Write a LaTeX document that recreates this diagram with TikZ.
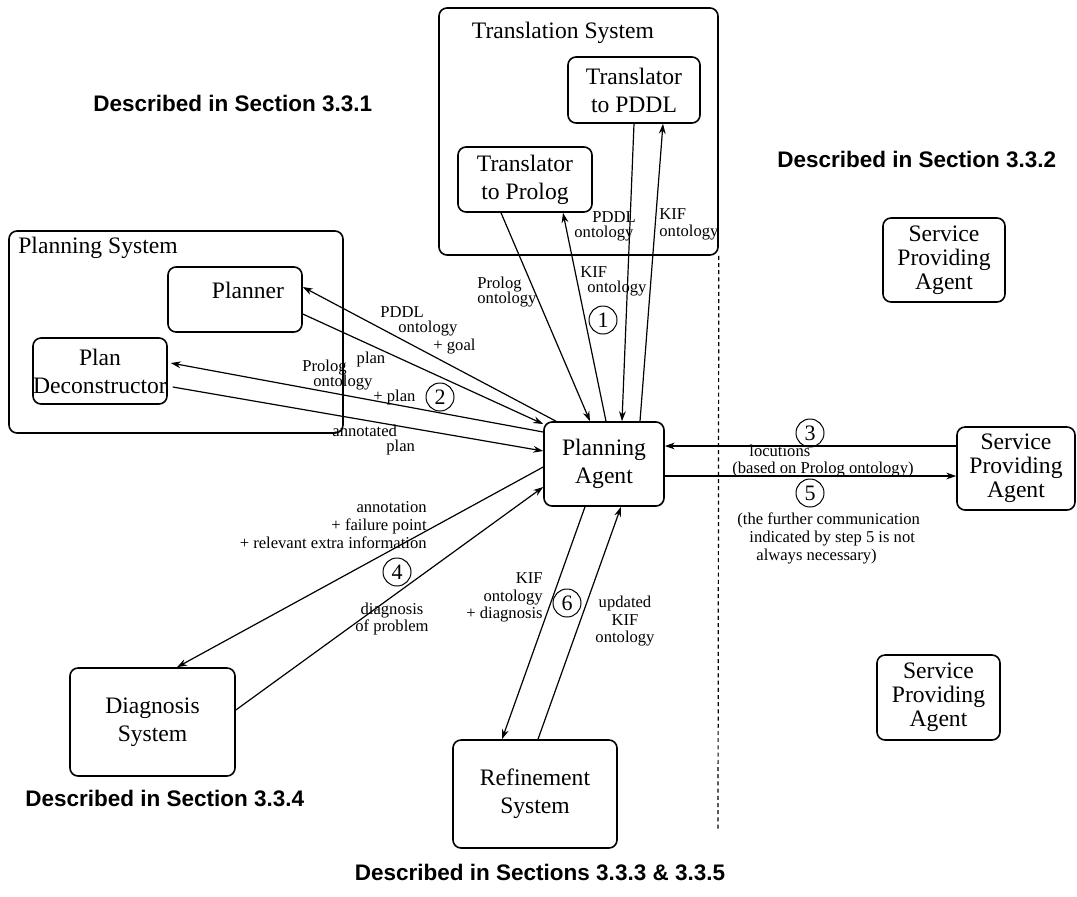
\documentclass[tikz,border=0pt]{standalone}
\usepackage{fontspec}
\setmainfont{Liberation Serif}
\newfontfamily\headfont{Liberation Sans}
\usetikzlibrary{arrows.meta}

\begin{document}
\begin{tikzpicture}[x=0.5pt,y=-0.5pt,
  box/.style={draw, line width=0.8pt, rounded corners=4pt, align=center, inner sep=0pt,
    font=\fontsize{11.8}{14}\selectfont},
  sabox/.style={box, font=\fontsize{11.8}{12}\selectfont},
  grouptitle/.style={font=\fontsize{11.8}{14}\selectfont, inner sep=0pt},
  lbl/.style={font=\fontsize{8.3}{9}\selectfont, inner sep=0pt},
  stepnum/.style={draw, circle, line width=0.5pt, minimum size=14pt, inner sep=0pt,
    font=\fontsize{11}{11}\selectfont},
  msg/.style={line width=0.6pt, -{Stealth[length=5pt,width=3.4pt]}},
  section/.style={font=\headfont\bfseries\fontsize{11.25}{13}\selectfont, inner sep=0pt},
]
\useasboundingbox[fill=white] (0,0) rectangle (1077,896);

% ---- Translation system ----
\node[box, minimum width=139.5pt, minimum height=123.5pt] (transsys) at (578.5,131.5) {};
\node[grouptitle] (transtitle) at (563,33) {Translation System};
\node[box, minimum width=66pt, minimum height=33pt] (pddl) at (634,90) {Translator\\to PDDL};
\node[box, minimum width=67pt, minimum height=32.5pt] (prolog) at (525,179.5) {Translator\\to Prolog};

% ---- Planning system ----
\node[box, minimum width=167pt, minimum height=101pt] (plansys) at (176,332) {};
\node[grouptitle] (plantitle) at (98,248) {Planning System};
\node[box, minimum width=67pt, minimum height=32.5pt,
  label={[grouptitle, xshift=6.5pt, yshift=4.75pt]center:Planner}] (planner) at (235,299.5) {};
\node[box, minimum width=67pt, minimum height=33pt] (decon) at (100,371) {Plan\\Deconstructor};

% ---- central agent and the other systems ----
\node[box, minimum width=60pt, minimum height=42pt] (agent) at (604,464) {Planning\\Agent};
\node[box, minimum width=82.5pt, minimum height=54pt] (diag) at (152.5,722) {Diagnosis\\System};
\node[box, minimum width=82pt, minimum height=54pt] (refine) at (535,794) {Refinement\\System};

% ---- service providing agents ----
\node[sabox, minimum width=61pt, minimum height=42pt] (spatop) at (944,260) {Service\\Providing\\Agent};
\node[sabox, minimum width=59pt, minimum height=41.5pt] (spamid) at (1016,468.5) {Service\\Providing\\Agent};
\node[sabox, minimum width=61.5pt, minimum height=42.5pt] (spabot) at (938.5,697.5) {Service\\Providing\\Agent};

% ---- boundary between the planning side and the service side ----
\coordinate (dashend) at (718,830);
\draw[line width=0.6pt, dash pattern=on 2pt off 1.6pt] (transsys.south east) -- (dashend);

% ---- section captions ----
\node[section, anchor=west] (sec1) at (93,103) {Described in Section 3.3.1};
\node[section, anchor=west] (sec2) at (777,159) {Described in Section 3.3.2};
\node[section, anchor=west] (sec4) at (25,798) {Described in Section 3.3.4};
\node[section] (sec35) at (540,872) {Described in Sections 3.3.3 \& 3.3.5};

% ---- step 1: translation ----
\draw[msg] ([xshift=-12pt]prolog.south) -- ([xshift=-7pt]agent.north);
\draw[msg] ([xshift=1pt]agent.north) -- ([xshift=19pt]prolog.south);
\draw[msg] (pddl.south) -- ([xshift=9pt]agent.north);
\draw[msg] ([xshift=18pt]agent.north) -- ([xshift=14.5pt]pddl.south);
\node[lbl, anchor=west, align=left] (l1) at (477,292) {Prolog\\[-1.5pt]ontology};
\node[lbl, anchor=west, align=left] (l2) at (580,281) {KIF\\[-1.5pt]\hspace{3.5pt}ontology};
\node[lbl, anchor=west, align=left] (l3) at (574,226) {\hspace{9pt}PDDL\\[-1.5pt]ontology};
\node[lbl, anchor=west, align=left] (l4) at (659,224) {KIF\\[-0.5pt]ontology};
\node[stepnum] (s1) at (603,320) {1};

% ---- step 2: planning ----
\draw[msg] ([xshift=-24pt]agent.north) -- ([yshift=6.25pt]planner.east);
\draw[msg] ([yshift=-7.25pt]planner.east) -- ([yshift=20pt]agent.west);
\draw[msg] ([yshift=16pt]agent.west) -- ([xshift=1.5pt,yshift=4pt]decon.east);
\draw[msg] ([xshift=2.5pt,yshift=-8pt]decon.east) -- ([yshift=6.5pt]agent.west);
\node[lbl, anchor=west, align=left] (l5) at (380,330) {PDDL\\[-1.5pt]\hspace{9pt}ontology\\\hspace{26.5pt}+ goal};
\node[lbl] (l6) at (371,359) {plan};
\node[lbl, anchor=west, align=left] (l7) at (302,382) {Prolog\\[-1.5pt]\hspace{5.5pt}ontology\\[-1.5pt]\hspace{35.5pt}+ plan};
\node[lbl, anchor=west, align=left] (l8) at (332,440) {annotated\\[-1.5pt]\hspace{27pt}plan};
\node[stepnum] (s2) at (440,397) {2};

% ---- steps 3 and 5: service agents ----
\draw[msg] ([yshift=11.25pt]spamid.west) -- ([yshift=9pt]agent.east);
\draw[msg] ([yshift=-6pt]agent.east) -- ([yshift=-3.75pt]spamid.west);
\node[lbl, anchor=west, align=left] (l13) at (732,461) {\hspace{8.5pt}locutions\\[-0.5pt](based on Prolog ontology)};
\node[lbl, anchor=west, align=left] (l14) at (737,538) {(the further communication\\\hspace{6pt}indicated by step 5 is not\\\hspace{9.5pt}always necessary)};
\node[stepnum] (s3) at (810,433) {3};
\node[stepnum] (s5) at (810,493) {5};

% ---- step 4: diagnosis ----
\draw[msg] ([yshift=-1.5pt]agent.west) -- ([xshift=12.25pt]diag.north);
\draw[msg] ([yshift=6pt]diag.east) -- ([yshift=-11.5pt]agent.west);
\node[lbl, anchor=east, align=right] (l9) at (427,525) {annotation\\+ failure point\hspace{6pt}\\+ relevant extra information\hspace{16pt}};
\node[lbl, align=center] (l10) at (392,619) {diagnosis\\[-0.5pt]of problem};
\node[stepnum] (s4) at (397,572) {4};

% ---- step 6: refinement ----
\draw[msg] ([xshift=-9.5pt]agent.south) -- ([xshift=-16.5pt]refine.north);
\draw[msg] ([xshift=1.5pt]refine.north) -- ([xshift=8.5pt]agent.south);
\node[lbl, anchor=east, align=right] (l11) at (543,597) {KIF\hspace{16.5pt}\\ontology\\[-0.5pt]+ diagnosis};
\node[lbl, align=center] (l12) at (625,621) {updated\\KIF\\[-0.5pt]ontology};
\node[stepnum] (s6) at (567,603) {6};

\end{tikzpicture}
\end{document}
